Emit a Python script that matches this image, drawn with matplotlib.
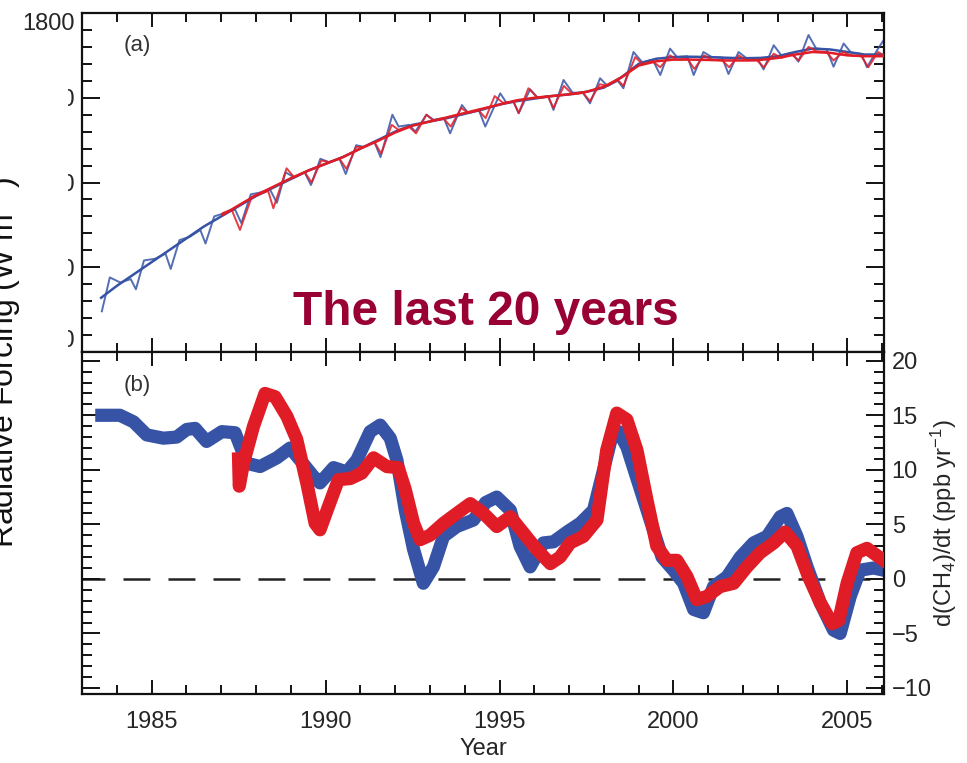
import matplotlib
matplotlib.use('Agg')
import matplotlib.pyplot as plt
from matplotlib.ticker import MultipleLocator, FixedLocator
from matplotlib.transforms import Bbox

plt.rcParams['font.family'] = ['Liberation Sans', 'DejaVu Sans']
plt.rcParams['mathtext.fontset'] = 'custom'
plt.rcParams['mathtext.rm'] = 'Liberation Sans'
plt.rcParams['mathtext.it'] = 'Liberation Sans:italic'
plt.rcParams['mathtext.bf'] = 'Liberation Sans:bold'
plt.rcParams['lines.scale_dashes'] = False

# ---------------- Panel (a): CH4 abundance (ppb) ----------------
# NOAA (blue) monthly-ish values with seasonal cycle
noaa_t = [1983.57, 1983.8, 1984.1, 1984.4, 1984.55, 1984.78, 1985.1, 1985.4, 1985.55, 1985.8,
          1986.1, 1986.4, 1986.55, 1986.8, 1987.1, 1987.4, 1987.58, 1987.85, 1988.1, 1988.4,
          1988.6, 1988.85, 1989.1, 1989.4, 1989.58, 1989.85, 1990.1, 1990.4, 1990.58, 1990.88,
          1991.1, 1991.4, 1991.58, 1991.92, 1992.1, 1992.4, 1992.58, 1992.9, 1993.1, 1993.4,
          1993.58, 1993.92, 1994.1, 1994.4, 1994.59, 1995.02, 1995.2, 1995.4, 1995.55, 1995.88,
          1996.1, 1996.4, 1996.55, 1996.84, 1997.1, 1997.4, 1997.6, 1997.89, 1998.1, 1998.4,
          1998.56, 1998.85, 1999.1, 1999.4, 1999.62, 1999.9, 2000.1, 2000.4, 2000.58, 2000.86,
          2001.1, 2001.4, 2001.58, 2001.87, 2002.1, 2002.4, 2002.59, 2002.88, 2003.1, 2003.4,
          2003.59, 2003.88, 2004.1, 2004.4, 2004.6, 2004.89, 2005.1, 2005.4, 2005.56, 2005.85,
          2006.04]
noaa_v = [1624, 1644, 1641, 1643, 1637, 1654, 1655, 1658, 1649, 1666,
          1668, 1672, 1664, 1680, 1682, 1684, 1676, 1693, 1694, 1696,
          1688, 1706, 1703, 1706, 1698.5, 1714, 1712, 1714, 1705, 1722,
          1721, 1724, 1715, 1740, 1733, 1734, 1730, 1740, 1737, 1738,
          1729, 1745.7, 1741, 1743, 1733, 1752.6, 1747, 1748, 1740.8, 1755,
          1750, 1751, 1742.8, 1760.5, 1753, 1753, 1746.7, 1761.5, 1757, 1760,
          1755.6, 1777, 1771, 1772.5, 1763.4, 1779, 1774, 1774.5, 1763.4, 1777,
          1774, 1773.7, 1764, 1777, 1773.3, 1773.4, 1766.7, 1781, 1775, 1776.5,
          1771.3, 1787, 1779, 1778.6, 1768.3, 1782, 1776.7, 1775.8, 1768, 1778,
          1784]
# NOAA deseasonalised trend
noaa_trend_t = [1983.55, 1984.0, 1984.5, 1985.0, 1985.5, 1986.0, 1986.5, 1987.0, 1987.5, 1988.0,
                1988.5, 1989.0, 1989.5, 1990.0, 1990.5, 1991.0, 1991.5, 1992.0, 1992.5, 1993.0,
                1993.5, 1994.0, 1994.5, 1995.0, 1995.5, 1996.0, 1996.5, 1997.0, 1997.5, 1998.0,
                1998.5, 1999.0, 1999.5, 2000.0, 2000.5, 2001.0, 2001.5, 2002.0, 2002.5, 2003.0,
                2003.5, 2004.0, 2004.5, 2005.0, 2005.5, 2006.04]
noaa_trend_v = [1632, 1639, 1646, 1653, 1660, 1667, 1674, 1680, 1686, 1692,
                1697, 1702, 1707, 1711, 1715, 1720, 1725, 1730, 1734, 1736,
                1738, 1740.5, 1743, 1746, 1748, 1749.5, 1751, 1752, 1753.5, 1756,
                1762, 1770, 1773, 1774, 1774.2, 1774, 1773.6, 1773.3, 1773.5, 1774.5,
                1777, 1779, 1778.5, 1777, 1775.5, 1775.5]

# AGAGE (red) values with seasonal cycle
agage_t = [1987.05, 1987.3, 1987.54, 1987.88, 1988.1, 1988.35, 1988.5, 1988.88, 1989.1, 1989.4,
           1989.6, 1989.88, 1990.1, 1990.4, 1990.6, 1990.88, 1991.1, 1991.4, 1991.6, 1991.9,
           1992.1, 1992.4, 1992.6, 1992.9, 1993.1, 1993.4, 1993.6, 1993.9, 1994.1, 1994.4,
           1994.6, 1994.86, 1995.1, 1995.4, 1995.55, 1995.83, 1996.1, 1996.4, 1996.55, 1996.85,
           1997.1, 1997.4, 1997.6, 1997.88, 1998.1, 1998.4, 1998.56, 1998.9, 1999.1, 1999.4,
           1999.62, 1999.9, 2000.1, 2000.4, 2000.6, 2000.88, 2001.1, 2001.4, 2001.6, 2001.88,
           2002.1, 2002.4, 2002.6, 2002.88, 2003.1, 2003.4, 2003.6, 2003.88, 2004.1, 2004.4,
           2004.6, 2004.88, 2005.1, 2005.4, 2005.6, 2005.88, 2006.04]
agage_v = [1682, 1684, 1672, 1691.6, 1693, 1695, 1684.8, 1708.4, 1703, 1706,
           1700, 1713, 1712, 1714, 1708, 1721, 1721, 1724, 1717, 1734,
           1731, 1733, 1729, 1740, 1736.5, 1737.5, 1733, 1744, 1741, 1742.5,
           1738, 1751, 1747, 1747.6, 1741, 1755.6, 1749.8, 1750.5, 1744, 1757,
           1752, 1752.8, 1748, 1758, 1757, 1760.5, 1757, 1774, 1770, 1771.5,
           1768, 1775, 1772.5, 1773, 1767, 1775, 1772.5, 1772, 1768, 1775,
           1772, 1772, 1768, 1776, 1773.5, 1775.5, 1772, 1780, 1777.5, 1777,
           1772, 1777, 1775, 1774.5, 1768, 1777, 1775]
agage_trend_t = [1987.05, 1987.5, 1988.0, 1988.5, 1989.0, 1989.5, 1990.0, 1990.5, 1991.0, 1991.5,
                 1992.0, 1992.5, 1993.0, 1993.5, 1994.0, 1994.5, 1995.0, 1995.5, 1996.0, 1996.5,
                 1997.0, 1997.5, 1998.0, 1998.5, 1999.0, 1999.5, 2000.0, 2000.5, 2001.0, 2001.5,
                 2002.0, 2002.5, 2003.0, 2003.5, 2004.0, 2004.5, 2005.0, 2005.5, 2006.04]
agage_trend_v = [1681, 1686.5, 1692.5, 1697.5, 1702.5, 1707, 1711, 1715, 1720, 1724.5,
                 1729.5, 1733.5, 1736, 1738.5, 1741, 1743.5, 1746, 1748.5, 1750, 1751,
                 1752, 1753.5, 1756.5, 1762, 1769, 1771.5, 1772.5, 1772.5, 1772.3, 1772,
                 1772, 1772.3, 1773.5, 1775.5, 1777, 1776.5, 1775, 1774.5, 1774.5]

# ---------------- Panel (b): growth rate d(CH4)/dt (ppb/yr) ----------------
noaa_gr_t = [1983.57, 1984.09, 1984.48, 1984.86, 1985.34, 1985.72, 1986.01, 1986.25, 1986.58, 1987.02,
             1987.4, 1987.74, 1988.12, 1988.6, 1988.98, 1989.27, 1989.65, 1989.84, 1990.23, 1990.61,
             1990.9, 1991.28, 1991.57, 1991.86, 1992.05, 1992.29, 1992.53, 1992.81, 1993.1, 1993.39,
             1993.77, 1994.25, 1994.6, 1994.92, 1995.31, 1995.59, 1995.88, 1996.26, 1996.55, 1996.94,
             1997.32, 1997.7, 1997.99, 1998.23, 1998.42, 1998.66, 1998.99, 1999.33, 1999.67, 2000.0,
             2000.29, 2000.58, 2000.86, 2001.15, 2001.54, 2001.92, 2002.3, 2002.69, 2003.07, 2003.26,
             2003.55, 2003.84, 2004.22, 2004.6, 2004.79, 2005.08, 2005.36, 2005.75, 2006.04]
noaa_gr_v = [15.0, 15.0, 14.4, 13.2, 12.9, 13.0, 13.7, 13.8, 12.6, 13.5,
             13.4, 10.6, 10.3, 11.1, 12.0, 10.9, 9.4, 8.8, 10.2, 9.8,
             10.9, 13.5, 14.1, 12.9, 10.9, 6.3, 2.7, -0.4, 1.1, 3.9,
             4.8, 5.4, 7.0, 7.5, 6.3, 3.0, 1.1, 3.3, 3.4, 4.3,
             5.1, 6.3, 10.0, 13.1, 13.5, 12.1, 8.8, 5.4, 2.0, 0.8,
             -0.4, -2.8, -3.1, -0.7, 0.2, 2.0, 3.3, 3.9, 5.7, 6.0,
             3.9, 1.1, -2.2, -4.7, -5.0, -1.6, 0.8, 1.0, 0.8]
agage_gr_t = [1987.5, 1987.52, 1987.64, 1987.93, 1988.26, 1988.55, 1988.89, 1989.17, 1989.46, 1989.7,
              1989.84, 1990.08, 1990.37, 1990.71, 1991.04, 1991.38, 1991.76, 1992.09, 1992.29, 1992.53,
              1992.72, 1993.0, 1993.39, 1993.77, 1994.16, 1994.54, 1994.92, 1995.31, 1995.69, 1996.07,
              1996.46, 1996.74, 1997.03, 1997.41, 1997.8, 1998.08, 1998.37, 1998.66, 1998.95, 1999.24,
              1999.52, 1999.81, 2000.1, 2000.39, 2000.67, 2000.96, 2001.34, 2001.73, 2002.11, 2002.49,
              2002.88, 2003.21, 2003.55, 2003.88, 2004.22, 2004.56, 2004.75, 2004.99, 2005.27, 2005.56,
              2006.04]
agage_gr_v = [11.0, 8.5, 10.6, 14.0, 17.0, 16.7, 14.9, 12.8, 8.8, 5.1,
              4.5, 6.6, 9.1, 9.2, 9.7, 11.1, 10.3, 10.2, 8.2, 5.1,
              3.6, 4.0, 5.1, 6.0, 6.9, 6.0, 4.8, 5.7, 4.2, 2.7,
              1.4, 2.0, 3.3, 3.9, 5.4, 11.8, 15.2, 14.6, 11.8, 7.2,
              3.0, 1.7, 1.7, 0.2, -1.9, -1.6, -0.7, -0.4, 1.1, 2.4,
              3.3, 4.3, 3.0, 0.2, -2.2, -4.1, -3.8, -0.4, 2.4, 2.8,
              1.7]

a_yticks = [1600, 1650, 1700, 1750, 1800]
a_yticklabels = ['1600', '1650', '1700', '1750', '1800']
b_yticks = [-10, -5, 0, 5, 10, 15, 20]
x_ticks = [1985, 1990, 1995, 2000, 2005]

BLUE = '#3753a6'
RED = '#e01c26'
TICKC = '#111111'
TEXTC = '#262626'

W, H = 967, 763
fig = plt.figure(figsize=(W / 100, H / 100), dpi=100)
L, R = 82, 884


def axrect(top, bottom):
    return [L / W, 1 - bottom / H, (R - L) / W, (bottom - top) / H]


axa = fig.add_axes(axrect(13, 352))
axb = fig.add_axes(axrect(352, 694), sharex=axa)

# ---- panel a ----
axa.plot(noaa_t, noaa_v, color=BLUE, lw=1.4, alpha=0.85, zorder=2)
axa.plot(noaa_trend_t, noaa_trend_v, color=BLUE, lw=1.8, zorder=3)
axa.plot(agage_t, agage_v, color=RED, lw=1.4, alpha=0.85, zorder=4)
axa.plot(agage_trend_t, agage_trend_v, color=RED, lw=1.8, zorder=5)
axa.set_ylim(1600, 1800)
axa.yaxis.set_major_locator(FixedLocator(a_yticks))
axa.yaxis.set_minor_locator(MultipleLocator(10))
axa.set_yticklabels(a_yticklabels)

# ---- panel b ----
axb.axhline(0, color='#222222', lw=1.8, ls=(2.9, (19.4, 13.0)), zorder=1)
axb.plot(noaa_gr_t, noaa_gr_v, color=BLUE, lw=9.5, solid_joinstyle='round', zorder=2)
axb.plot(agage_gr_t, agage_gr_v, color=RED, lw=9.5, solid_joinstyle='round', zorder=3)
axb.set_ylim(-10.55, 20.8)
axb.yaxis.set_major_locator(FixedLocator(b_yticks))
axb.yaxis.set_minor_locator(MultipleLocator(1))

axa.set_xlim(1983.0, 2006.05)
for ax in (axa, axb):
    ax.xaxis.set_major_locator(FixedLocator(x_ticks))
    ax.xaxis.set_minor_locator(MultipleLocator(1))
    ax.tick_params(which='both', direction='in', top=True, bottom=True,
                   left=True, right=True, width=1.4, color=TICKC,
                   labelsize=17, labelcolor=TEXTC)
    ax.tick_params(axis='x', which='major', length=10)
    ax.tick_params(axis='x', which='minor', length=6.5)
    ax.tick_params(axis='y', which='major', length=13)
    ax.tick_params(axis='y', which='minor', length=7)
    for s in ax.spines.values():
        s.set_linewidth(1.6)
        s.set_color(TICKC)

axa.tick_params(axis='x', labelbottom=False)
axa.tick_params(axis='y', pad=5)
axb.tick_params(axis='x', pad=12.5)
axb.tick_params(axis='y', labelleft=False, labelright=True, pad=5.5)

# edge labels of panel a shifted inward, others cut by the image edge
clip = Bbox.from_extents(68, 0, W, H)
for loc, tk in zip(a_yticks, axa.yaxis.get_major_ticks()):
    if loc == 1800:
        tk.label1.set_verticalalignment('top')
    else:
        if loc == 1600:
            tk.label1.set_verticalalignment('bottom')
        tk.label1.set_clip_box(clip)
        tk.label1.set_clip_on(True)

axb.set_xlabel('Year', fontsize=17, color=TEXTC, labelpad=3)
axb.yaxis.set_label_position('right')
axb.set_ylabel('d(CH$_4$)/dt (ppb yr$^{-1}$)', fontsize=17, color=TEXTC,
               rotation=90, labelpad=-2)

fig.text(14 / W, 1 - 362 / H, 'Radiative Forcing (W m$^{-2}$)', rotation=90,
         rotation_mode='anchor', ha='center', va='baseline', fontsize=23, color='#111111')

fig.text(137 / W, 1 - 45 / H, '(a)', ha='center', va='center', fontsize=16, color='#333333')
fig.text(137 / W, 1 - 385 / H, '(b)', ha='center', va='center', fontsize=16, color='#333333')

fig.text(293 / W, 1 - 325 / H, 'The last 20 years', ha='left', va='baseline',
         fontsize=34.5, fontweight='bold', color='#990033')

fig.savefig('out.png', dpi=100)
